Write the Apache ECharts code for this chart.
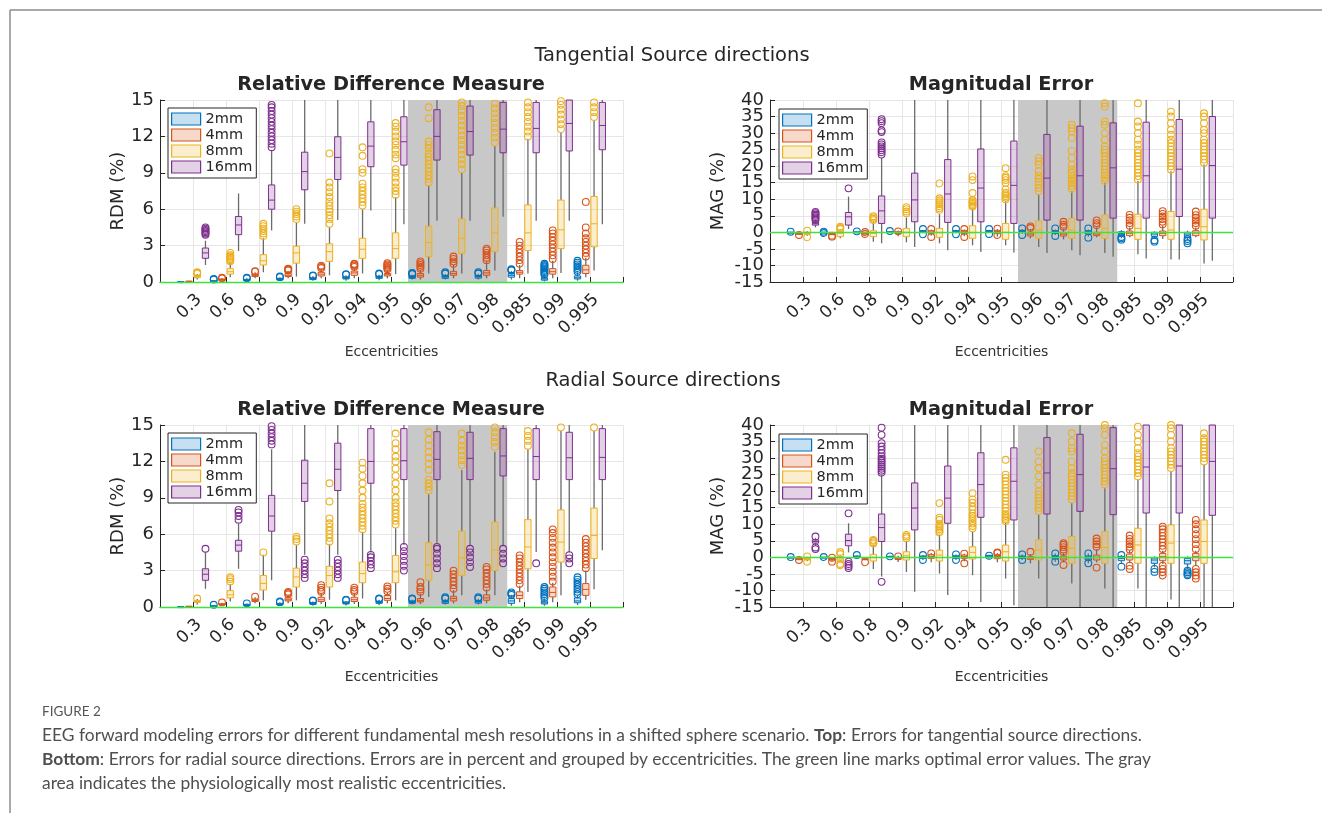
<!DOCTYPE html>
<html>
<head>
<meta charset="utf-8">
<script src="https://cdn.jsdelivr.net/npm/echarts@6/dist/echarts.min.js"></script>
<style>
  html, body { margin: 0; padding: 0; background: #fff; }
  #chart { width: 1322px; height: 813px; }
</style>
</head>
<body>
<div id="chart"></div>
<script>
const eccentricities = ['0.3', '0.6', '0.8', '0.9', '0.92', '0.94', '0.95', '0.96', '0.97', '0.98', '0.985', '0.99', '0.995']
const meshSizes = ['2mm', '4mm', '8mm', '16mm']
const realisticRange = ['0.96', '0.98']
const rdmTicks = [0, 3, 6, 9, 12, 15]
const magTicks = [-15, -10, -5, 0, 5, 10, 15, 20, 25, 30, 35, 40]

// box stats per eccentricity: [low whisker, q1, median, q3, high whisker]
const rdmTan2mm = [[0,0.01,0.02,0.03,0.05],[0.02,0.05,0.08,0.1,0.15],[0.05,0.12,0.18,0.22,0.3],[0.1,0.18,0.25,0.3,0.4],[0.1,0.2,0.3,0.35,0.5],[0.1,0.25,0.33,0.42,0.55],[0.15,0.3,0.4,0.48,0.6],[0.2,0.3,0.4,0.5,0.6],[0.2,0.3,0.42,0.5,0.65],[0.2,0.32,0.45,0.52,0.68],[0.2,0.4,0.55,0.7,0.9],[0.05,0.15,0.25,0.35,0.55],[0.1,0.25,0.35,0.5,0.8]]
const rdmTan2mmOut = [[],[0.2,0.25],[0.3,0.35],[0.4,0.45],[0.5,0.55],[0.6,0.65],[0.65,0.7],[0.65,0.7,0.75],[0.7,0.8],[0.7,0.8],[0.95,1.0,1.05],[0.6,0.7,0.8,0.9,1.0,1.1,1.2,1.3,1.4,1.5],[0.85,1.0,1.15,1.3,1.45,1.6,1.75]]
const rdmTan4mm = [[0.02,0.04,0.05,0.07,0.1],[0.1,0.15,0.2,0.25,0.3],[0.3,0.45,0.55,0.65,0.8],[0.3,0.45,0.55,0.7,0.9],[0.3,0.5,0.65,0.8,1.1],[0.3,0.55,0.75,0.9,1.2],[0.3,0.5,0.6,0.7,1.0],[0.2,0.4,0.55,0.7,1.0],[0.3,0.55,0.7,0.88,1.4],[0.3,0.55,0.75,0.95,1.7],[0.3,0.65,0.8,0.95,1.4],[0.3,0.65,0.85,1.1,1.75],[0.4,0.7,1.0,1.38,2.0]]
const rdmTan4mmOut = [[],[0.3,0.35],[0.85,0.9],[0.95,1.0,1.05,1.1],[1.15,1.25,1.35],[1.25,1.35,1.45,1.5],[1.05,1.15,1.25,1.35,1.45,1.55],[1.1,1.25,1.4,1.55,1.7],[1.5,1.7,1.9,2.1],[1.8,2.0,2.2,2.4,2.6,2.75],[1.5,1.8,2.1,2.4,2.7,3.0,3.3],[1.9,2.2,2.5,2.8,3.1,3.4,3.7,4.0,4.25],[2.1,2.4,2.7,3.0,3.3,3.6,4.0,4.5,6.6]]
const rdmTan8mm = [[0.2,0.35,0.45,0.55,0.65],[0.4,0.65,0.85,1.1,1.6],[0.8,1.4,1.75,2.25,3.6],[0.45,1.55,2.4,2.95,4.9],[0.55,1.7,2.5,3.15,4.5],[0.7,1.95,2.7,3.6,6.0],[0.65,1.95,2.75,4.05,7.0],[0.7,2.1,3.25,4.6,8.0],[0.7,2.35,3.6,5.2,9.0],[0.95,2.5,4.05,6.1,11.2],[0.7,2.6,4.05,6.35,11.8],[0.75,2.75,4.3,6.75,12.3],[0.95,2.9,4.8,7.05,13.3]]
const rdmTan8mmOut = [[0.7,0.75,0.8],[1.7,1.8,1.9,2.0,2.1,2.2,2.4],[3.8,4.0,4.2,4.4,4.6,4.8],[5.2,5.4,5.6,5.8,6.0],[4.8,5.2,5.5,5.8,6.0,6.3,6.6,7.0,7.4,7.8,8.2,10.6],[6.3,6.6,6.9,7.2,7.5,7.8,8.1,9.0,9.3,10.4,11.1],[7.2,7.5,7.8,8.2,8.6,9.0,9.3,10.2,10.5,10.9,11.3,11.6,12.0,12.4,12.8,13.1],[8.2,8.5,8.8,9.1,9.4,9.7,10.0,10.3,10.6,11.0,11.3,11.6,13.5,14.4],[9.3,9.7,10.1,10.5,10.9,11.3,11.7,12.1,12.5,12.9,13.3,13.7,14.1,14.5,14.8],[11.5,11.9,12.3,12.7,13.1,13.5,13.9,14.3,14.7],[12.0,12.4,12.8,13.2,13.6,14.0,14.4,14.8],[12.6,13.0,13.4,13.8,14.2,14.6,14.9],[13.6,14.0,14.4,14.8]]
const rdmTan16mm = [[1.4,1.95,2.4,2.8,3.4],[2.55,3.9,4.7,5.4,7.3],[4.25,6.0,6.75,8.0,10.9],[4.8,7.6,9.1,10.7,16],[5.1,8.45,10.27,11.97,16],[5.9,9.5,11.2,13.2,16],[4.76,9.63,11.56,13.62,16],[5.04,10.05,12.0,14.2,16],[5.04,10.46,12.4,14.5,16],[5.37,10.65,12.6,14.8,16],[5.04,10.65,12.66,14.8,16],[5.04,10.8,13.07,15.0,16],[4.76,10.9,12.9,14.8,16]]
const rdmTan16mmOut = [[3.9,4.0,4.1,4.2,4.3,4.4,4.5],[],[11.1,11.4,11.7,12,12.3,12.6,12.9,13.2,13.5,13.8,14.1,14.4,14.6],[],[],[],[],[],[],[],[],[],[]]

const magTan2mm = [[-0.1,-0.05,0,0.05,0.1],[-0.1,-0.05,0,0.05,0.1],[-0.1,0,0.1,0.15,0.2],[-0.1,0,0.1,0.2,0.3],[-0.3,0,0.3,0.5,0.8],[-0.3,0,0.3,0.5,0.8],[-0.2,0.1,0.3,0.5,0.8],[-0.4,0,0.3,0.6,1.0],[-0.8,-0.3,0.1,0.5,0.9],[-1.3,-0.5,0,0.5,0.9],[-1.8,-1.0,-0.4,0.2,0.7],[-2.0,-1.2,-0.5,0,0.3],[-2.5,-1.5,-0.5,0,0.5]]
const magTan2mmOut = [[0.2],[0.2,-0.2],[0.3],[0.4],[-0.6,1.0],[-0.6,1.0],[-0.5,1.0],[-0.8,1.2],[-1.1,1.2],[-1.6,1.2],[-1.8,-1.4,-2.2],[-2.4,-2.8],[-2.0,-2.6,-3.3]]
const magTan4mm = [[-0.6,-0.5,-0.4,-0.3,-0.2],[-0.8,-0.6,-0.5,-0.4,-0.2],[-0.6,-0.4,-0.3,-0.2,0],[-1.2,-0.4,-0.1,0.2,0.6],[-1.0,-0.3,0.1,0.5,0.9],[-1.2,-0.4,0.2,0.6,0.9],[-1.3,-0.4,0.2,0.6,1.0],[-1.8,-1.1,-0.5,-0.1,0.8],[-2.1,-1.1,-0.5,-0.1,1.0],[-1.5,-1.0,-0.5,0,1.5],[-1.5,-1.0,-0.3,0.4,1.5],[-2.0,-1.0,-0.3,0.4,2.0],[-1.5,-1.0,-0.2,0.5,1.5]]
const magTan4mmOut = [[-0.8],[-1.0,-1.3],[-0.5,0.1],[0.3],[-1.4,1.0],[-1.4,1.0],[-0.8,1.1],[1.3,1.8],[1.7,2.3,3.2],[2.2,2.8,3.6],[2.0,2.8,3.6,4.4,5.3],[2.4,3.2,4.0,4.8,5.6,6.4],[2.0,2.8,3.6,4.4,5.2,6.3]]
const magTan8mm = [[-1,-0.6,-0.3,0,0.3],[-1.8,-1.3,-0.3,0.7,0.9],[-2.8,-1.3,-0.3,0.5,3.2],[-3.0,-1.3,0,1.2,4.5],[-3.3,-1.5,-0.1,1.2,5.5],[-3.9,-1.8,-0.1,2.0,7.0],[-3.9,-2.1,0,2.7,9.5],[-4.4,-1.8,0.7,3.5,11.5],[-5.4,-1.8,0.7,4.3,12.5],[-6.2,-1.8,1.2,5.3,15],[-6.6,-2.1,1.2,5.5,15.5],[-8.2,-2.1,0.7,6.3,18.5],[-9.4,-2.3,1.7,7.0,20.5]]
const magTan8mmOut = [[-1.5,0.5],[1.0,1.3,1.7],[3.7,4.1,4.5,4.9],[5.8,6.3,7.0,7.6],[6.8,7.3,7.9,8.5,9.1,9.7,10.3,14.8],[7.8,8.2,8.6,9.0,9.4,9.8,11.9,15.8,16.9],[10,10.5,11,11.5,12,13,15,15.8,16.5,17,19.4],[12.4,13.5,14.5,15.3,16.2,17.2,18.5,20.5,21.5,22.5],[13.2,14.0,14.8,15.6,16.4,17.2,18,19,20.4,22.5,24.6,28.5,30.5,31.5,32.5],[15.6,16.4,17.2,18,19,20,21,22,23,24,25,26,28,30,32.5,33.5,38,39],[16,17,18,19,20,21,22,23,24,25,26.5,28,30,32,33.5,39],[19,20,21,22,23,24,25,26,27,28,29.5,31,33,35,36.5],[21,22,23,24,25,26,27,28,30,31,33,35,36]]
const magTan16mm = [[1.5,2.2,2.6,3.0,3.5],[1.0,2.2,4.7,6.0,10.8],[-3.3,2.7,6.5,11.0,22.5],[-4.4,3.2,9.8,17.9,42],[-5.4,3.0,11.6,22.0,42],[-5.9,3.2,13.4,25.2,42],[-6.1,2.7,14.2,27.6,42],[-6.2,3.7,16.4,29.6,42],[-6.9,3.7,17.1,32.1,42],[-7.4,4.3,19.5,33.1,42],[-7.9,4.3,17.1,33.3,42],[-8.2,4.8,19.1,34.1,42],[-8.6,4.3,20.2,35,42]]
const magTan16mmOut = [[3.8,4.2,4.6,5.0,5.4,5.8,6.2],[13.3],[23.5,24.2,24.8,25.4,26,26.6,27.2,30.3,30.8,33.0,33.6,34.2],[],[],[],[],[],[],[],[],[],[]]

const rdmRad2mm = [[0,0.01,0.02,0.03,0.04],[0.02,0.05,0.08,0.1,0.15],[0.05,0.12,0.18,0.22,0.28],[0.1,0.18,0.25,0.3,0.4],[0.1,0.22,0.3,0.36,0.45],[0.12,0.25,0.33,0.42,0.5],[0.15,0.3,0.4,0.48,0.6],[0.2,0.3,0.4,0.5,0.6],[0.2,0.3,0.42,0.5,0.65],[0.2,0.32,0.45,0.52,0.68],[0.1,0.3,0.5,0.7,1.0],[0.1,0.25,0.35,0.5,0.7],[0.15,0.35,0.5,0.75,1.0]]
const rdmRad2mmOut = [[],[0.18],[0.3],[0.4,0.45],[0.5,0.55],[0.55,0.6],[0.65,0.7],[0.65,0.7],[0.7,0.8],[0.7,0.8],[1.0,1.1,1.2],[0.75,0.9,1.05,1.2,1.35,1.5,1.65],[1.05,1.25,1.45,1.65,1.85,2.05,2.25,2.45]]
const rdmRad4mm = [[0.02,0.04,0.05,0.06,0.08],[0.1,0.18,0.22,0.27,0.35],[0.3,0.45,0.55,0.65,0.8],[0.3,0.5,0.6,0.75,1.0],[0.25,0.45,0.6,0.8,1.1],[0.25,0.45,0.6,0.8,1.1],[0.3,0.55,0.7,0.95,1.2],[0.25,0.42,0.55,0.7,1.1],[0.3,0.5,0.7,0.88,1.4],[0.3,0.55,0.75,1.0,1.45],[0.4,0.7,0.95,1.25,1.75],[0.4,0.83,1.2,1.65,2.0],[0.6,0.96,1.45,1.93,3.0]]
const rdmRad4mmOut = [[],[0.38],[0.85],[1.05,1.15,1.25],[1.25,1.4,1.6,1.8],[1.25,1.4,1.6],[1.3,1.5,1.7],[1.25,1.45,1.65,2.05],[1.5,1.8,2.1,2.4,2.7,3.0],[1.6,1.9,2.2,2.5,2.8,3.1,3.3],[1.9,2.2,2.5,2.8,3.1,3.4,3.7,4.0,4.25],[2.1,2.5,2.9,3.3,3.7,4.1,4.5,4.9,5.3,5.7,6.1,6.4],[3.2,3.5,3.8,4.1,4.4,4.7,5.0,5.3,5.6]]
const rdmRad8mm = [[0.2,0.38,0.45,0.52,0.65],[0.45,0.75,1.0,1.35,1.9],[0.55,1.4,1.95,2.6,4.3],[0.55,1.65,2.48,3.2,5.1],[0.6,1.65,2.6,3.35,5.2],[0.7,2.0,2.75,3.7,6.2],[0.55,2.0,2.9,4.25,6.5],[0.83,2.2,3.45,5.3,9.3],[0.96,2.6,4.05,6.25,11.3],[0.96,3.0,4.7,7.0,12.8],[1.24,3.15,4.95,7.2,13.0],[0.96,3.7,5.35,8.0,14.5],[1.46,4.0,5.9,8.15,14.5]]
const rdmRad8mmOut = [[0.7],[2.1,2.3,2.45],[4.5],[5.4,5.6,5.8],[5.4,5.7,6.0,6.3,6.6,6.9,7.3,8.7,10.2],[6.4,6.7,7.0,7.3,7.6,7.9,8.2,8.5,9.0,9.6,10.2,10.8,11.4,11.9],[6.8,7.1,7.4,7.7,8.0,8.3,8.6,9.0,9.6,10.2,10.8,11.4,12.0,12.4,13.0,13.5,14.3],[9.6,9.9,10.2,10.5,11.3,11.8,12.3,12.8,13.3,13.8,14.4],[11.7,12.1,12.5,12.9,13.3,13.7,14.3],[13.2,13.6,14.0,14.4,14.8],[13.3,13.7,14.1,14.5],[14.8],[14.8]]
const rdmRad16mm = [[1.5,2.2,2.7,3.15,4.5],[3.15,4.6,5.1,5.5,6.9],[2.2,6.25,7.5,9.2,13.0],[4.3,8.7,10.2,12.1,16],[4.3,9.6,11.35,13.5,16],[4.5,10.2,12.0,14.7,16],[5.1,10.5,12.06,14.7,16],[5.3,10.5,12.17,14.45,16],[5.0,10.5,12.25,14.4,16],[5.0,10.8,12.45,14.7,16],[4.54,10.5,12.4,14.7,16],[4.5,10.5,12.3,14.4,16],[4.68,10.5,12.33,14.7,16]]
const rdmRad16mmOut = [[4.8],[7.2,7.5,7.8,8.0],[13.4,13.7,14.0,14.3,14.6,14.9],[2.4,2.7,3.0,3.3,3.6,3.9],[2.4,2.7,3.0,3.3,3.6,3.9],[3.2,3.5,3.8,4.1,4.3],[3.0,3.4,3.8,4.2,4.6,4.95],[3.2,3.6,4.0,4.4,4.8,4.95],[3.3,3.7,4.1,4.5,4.8],[3.6,4.0,4.4,4.8],[3.6],[3.6,4.0,4.27],[]]

const magRad2mm = [[-0.1,-0.05,0,0.05,0.1],[-0.1,-0.05,0,0.05,0.1],[-0.2,0,0.2,0.4,0.6],[-0.2,0,0.15,0.3,0.5],[-0.8,-0.3,0.1,0.4,0.7],[-0.8,-0.3,0.2,0.5,0.9],[-0.3,0.1,0.4,0.6,0.8],[-0.8,-0.3,0,0.4,0.9],[-1.3,-0.5,0,0.5,1.2],[-1.8,-0.8,-0.2,0.4,1.2],[-2.0,-1.0,-0.3,0.3,0.7],[-3.0,-1.8,-0.8,-0.2,0.3],[-3.5,-2.0,-1.0,-0.3,0.3]]
const magRad2mmOut = [[0.1],[0.1],[0.7],[0.3],[-0.8,0.7],[-0.8,0.9],[0.5],[-0.8,0.9],[-1.3,1.2],[-1.8,1.2],[-2.8,0.7],[-3.5,-4.4],[-4.0,-4.5,-5.0,-5.4]]
const magRad4mm = [[-0.7,-0.6,-0.5,-0.4,-0.3],[-1.0,-0.7,-0.5,-0.3,-0.1],[-0.9,-0.7,-0.6,-0.4,-0.2],[-1.4,-0.6,-0.3,0,0.5],[-1.5,-0.3,0.3,0.8,1.3],[-1.2,-0.3,0.3,0.7,1.1],[-1.5,-0.4,0.3,0.8,1.3],[-1.8,-0.6,-0.2,0.2,1.0],[-1.5,-0.8,-0.2,0.4,1.3],[-1.5,-0.8,0,0.7,2.5],[-1.8,-0.8,0.1,1.0,2.0],[-2.0,-1.0,0.2,1.2,2.0],[-2.5,-1.0,0.2,1.2,2.0]]
const magRad4mmOut = [[-0.8],[-1.3,-0.1],[-1.5],[0.3],[1.2],[-1.8,1.1],[1.3,1.5],[1.7],[1.7,2.4,3.1,3.8,4.3,-2.3],[3.2,4.0,4.8,5.7,-3.1],[2.4,3.2,4.0,4.8,5.6,6.6,-2.5,-3.5],[2.5,3.5,4.5,5.5,6.5,7.5,8.5,9.3,-2.5,-3.5,-4.5,-5.5],[2.5,4,5.5,7,8.5,10,11.3,-3.5,-4.5,-5.5,-6.4]]
const magRad8mm = [[-1.2,-0.8,-0.5,-0.2,0.2],[-1.5,-1.2,-0.5,0.2,0.8],[-3.5,-1.1,0,0.9,3.5],[-4.4,-0.8,0.5,1.7,5.0],[-4.9,-1.1,0.7,2.2,6.8],[-5.4,-0.5,1.5,3.2,8.0],[-6.4,-1.1,1.7,3.7,10.5],[-6.4,-0.8,2.2,5.3,13],[-7.9,-1.8,2.7,6.3,16.5],[-9.4,-1.8,3.0,7.8,21],[-9.4,-1.8,3.75,8.8,23.5],[-12.7,-1.8,4.3,9.8,26],[-16,-1.8,4.8,11.3,28]]
const magRad8mmOut = [[-1.3,0.3],[1.0,1.6,-2.0,-2.4],[4.2,4.6,5.0,5.3],[5.8,6.3,6.8],[7.5,8.0,8.5,9.0,9.5,10.0,11.3,12.0,16.4],[8.8,9.5,10.2,11,11.8,12.5,13.2,14.5,15.3,16.5,17.5,19.4],[11,11.5,12,12.5,13,14,15,16,17,18,19,20,21,22,23,24,25,29.5],[14,15,16,17,18,19,20,22,24.5,27,29,32],[17.5,18.5,19.5,20.5,21.5,22.5,23.5,24.5,25.5,27,29,32,33,35,37.5],[22,23,24,25,26,27,28,29,30,32,34,37,39,40],[24.5,25.5,26.5,27.5,28.5,29.5,30.5,31.5,33,35,37,39.5],[27,28,29,30,31,32,33,35,37,39,40],[29,30,31,32,33,34,35,36,37.5]]
const magRad16mm = [[3.5,4.3,4.8,5.3,5.9],[1.5,3.5,5.1,7.0,10.3],[-5.8,4.8,9.0,13.1,25],[-10.4,8.3,14.9,22.5,42],[-11.4,10.3,17.9,27.6,42],[-13.5,12.1,22,31.6,42],[-14.5,11.3,23,33.1,42],[-16,13.1,25.5,36.2,42],[-16,13.9,25,37.2,42],[-16,12.9,26.8,39.2,42],[-16,13.4,27.3,40.5,42],[-16,13.4,27.6,40.5,42],[-16,12.7,29,40.5,42]]
const magRad16mmOut = [[2.5,3.0,6.3],[13.3,-1.3,-2.0,-2.6,-3.2],[25.6,26.2,26.8,27.4,28,28.6,29.2,29.8,30.5,31.5,32.5,33.5,34.5,37,39.2,-7.4],[],[],[],[],[],[],[],[],[],[]]

const FONT = 'DejaVu Sans'
const INK = '#262626'
const meshColors = ['#0072BD', '#D95319', '#EDB120', '#7E2F8E']

function fade(hex, a) {
    const n = parseInt(hex.slice(1), 16)
    return 'rgba(' + (n >> 16) + ',' + ((n >> 8) & 255) + ',' + (n & 255) + ',' + a + ')'
}

const panels = [
    { rect: [160, 100], legend: [168, 108], ticks: rdmTicks, yName: 'RDM (%)', yGap: 33,
      boxes: [rdmTan2mm, rdmTan4mm, rdmTan8mm, rdmTan16mm], outs: [rdmTan2mmOut, rdmTan4mmOut, rdmTan8mmOut, rdmTan16mmOut] },
    { rect: [770, 100], legend: [779, 109], ticks: magTicks, yName: 'MAG (%)', yGap: 43,
      boxes: [magTan2mm, magTan4mm, magTan8mm, magTan16mm], outs: [magTan2mmOut, magTan4mmOut, magTan8mmOut, magTan16mmOut] },
    { rect: [160, 425], legend: [168, 433], ticks: rdmTicks, yName: 'RDM (%)', yGap: 33,
      boxes: [rdmRad2mm, rdmRad4mm, rdmRad8mm, rdmRad16mm], outs: [rdmRad2mmOut, rdmRad4mmOut, rdmRad8mmOut, rdmRad16mmOut] },
    { rect: [770, 425], legend: [779, 434], ticks: magTicks, yName: 'MAG (%)', yGap: 43,
      boxes: [magRad2mm, magRad4mm, magRad8mm, magRad16mm], outs: [magRad2mmOut, magRad4mmOut, magRad8mmOut, magRad16mmOut] }
]

function makeBoxRenderer(offset, color, outliers) {
    return function (params, api) {
        const cs = params.coordSys
        const clampY = y => Math.max(cs.y, Math.min(cs.y + cs.height, y))
        const pos = api.value(0)
        const band = api.size([1, 0])[0]
        const x = api.coord([pos, 0])[0] + offset * band
        const half = band * 0.095
        const yv = k => clampY(api.coord([pos, api.value(k)])[1])
        const yLow = yv(1), yQ1 = yv(2), yMed = yv(3), yQ3 = yv(4), yHigh = yv(5)
        const whisker = { stroke: '#6b6b6b', lineWidth: 1.3 }
        const children = [
            { type: 'line', shape: { x1: x, y1: yHigh, x2: x, y2: yQ3 }, style: whisker },
            { type: 'line', shape: { x1: x, y1: yQ1, x2: x, y2: yLow }, style: whisker },
            { type: 'rect', shape: { x: x - half, y: yQ3, width: half * 2, height: Math.max(yQ1 - yQ3, 1) },
              style: { fill: fade(color, 0.22), stroke: color, lineWidth: 1 } },
            { type: 'line', shape: { x1: x - half, y1: yMed, x2: x + half, y2: yMed }, style: { stroke: color, lineWidth: 1 } }
        ]
        outliers[params.dataIndex].forEach(v => {
            const p = api.coord([pos, v])
            if (p[1] < cs.y - 2 || p[1] > cs.y + cs.height + 2) return
            children.push({ type: 'circle', shape: { cx: x, cy: p[1], r: 3.4 },
                style: { fill: 'none', stroke: color, lineWidth: 1.1 } })
        })
        return { type: 'group', children: children }
    }
}

const grayFrom = eccentricities.indexOf(realisticRange[0]) + 0.5
const grayTo = eccentricities.indexOf(realisticRange[1]) + 1.5

const grid = [], xAxis = [], yAxis = [], extraY = [], series = [], legend = []
panels.forEach((p, i) => {
    const lo = p.ticks[0], hi = p.ticks[p.ticks.length - 1], step = p.ticks[1] - p.ticks[0]
    // labels next to the ends go on a second axis so the overlap check keeps them all
    const inner = v => v === lo + step || v === hi - step
    grid.push({ left: p.rect[0], top: p.rect[1], width: 463, height: 182 })
    xAxis.push({
        gridIndex: i, type: 'value', min: 0, max: eccentricities.length + 1, interval: 1,
        name: 'Eccentricities', nameLocation: 'middle', nameGap: 63,
        nameTextStyle: { fontFamily: FONT, fontSize: 14, color: '#333' },
        axisLine: { onZero: false, lineStyle: { color: INK } },
        axisTick: { inside: true, length: 5, lineStyle: { color: INK } },
        axisLabel: { rotate: 45, fontFamily: FONT, fontSize: 17, color: INK, margin: 9,
            align: 'right', verticalAlign: 'top',
            formatter: v => eccentricities[v - 1] || '' },
        splitLine: { show: true, lineStyle: { color: '#e6e6e6' } }
    })
    yAxis.push({
        gridIndex: i, type: 'value', position: 'left', min: lo, max: hi, interval: step,
        name: p.yName, nameLocation: 'middle', nameGap: p.yGap,
        nameTextStyle: { fontFamily: FONT, fontSize: 18, color: INK },
        axisLine: { show: true, lineStyle: { color: INK } },
        axisTick: { show: true, inside: true, length: 5, lineStyle: { color: INK } },
        axisLabel: { fontFamily: FONT, fontSize: 18, color: INK, margin: 6,
            showMinLabel: true, showMaxLabel: true, formatter: v => inner(v) ? '' : String(v) },
        splitLine: { lineStyle: { color: '#e6e6e6' } }
    })
    extraY.push({
        gridIndex: i, type: 'value', position: 'left', offset: 0, min: lo, max: hi, interval: step,
        axisLine: { show: false }, axisTick: { show: false }, splitLine: { show: false },
        axisLabel: { fontFamily: FONT, fontSize: 18, color: INK, margin: 6,
            showMinLabel: true, showMaxLabel: true, formatter: v => inner(v) ? String(v) : '' }
    })
    series.push({
        type: 'line', xAxisIndex: i, yAxisIndex: i, data: [], z: 1, silent: true,
        markArea: { silent: true, itemStyle: { color: '#c8c8c8' },
            data: [[{ xAxis: grayFrom }, { xAxis: grayTo }]] },
        markLine: { silent: true, symbol: 'none', label: { show: false },
            lineStyle: { color: '#3ee43e', width: 1.3, type: 'solid' }, data: [{ yAxis: 0 }] }
    })
    meshSizes.forEach((m, s) => {
        series.push({
            type: 'custom', name: m, xAxisIndex: i, yAxisIndex: i, z: 3,
            itemStyle: { color: meshColors[s] },
            renderItem: makeBoxRenderer((s - 1.5) * 0.25, meshColors[s], p.outs[s]),
            encode: { x: 0, y: [1, 2, 3, 4, 5] },
            data: p.boxes[s].map((b, k) => [k + 1].concat(b))
        })
    })
    legend.push({
        left: p.legend[0], top: p.legend[1], orient: 'vertical', icon: 'rect',
        itemWidth: 29, itemHeight: 12, itemGap: 0, padding: [3, 4, 3, 3],
        backgroundColor: '#fff', borderColor: INK, borderWidth: 1, borderRadius: 0,
        textStyle: { fontFamily: FONT, fontSize: 14.5, color: INK, lineHeight: 16 },
        data: meshSizes.map((m, s) => ({ name: m,
            itemStyle: { color: fade(meshColors[s], 0.22), borderColor: meshColors[s], borderWidth: 1.2 } }))
    })
})

function label(x, y, text, size, weight) {
    return { type: 'text', x: x, y: y, style: { text: text, fontFamily: FONT, fontSize: size,
        fontWeight: weight || 'normal', fill: INK, align: 'center', verticalAlign: 'middle' } }
}
const capStyle = { fontFamily: 'Lato', fontSize: 17.4, fill: '#4f4f4f' }
function caption(y, text) {
    return { type: 'text', x: 42, y: y, style: Object.assign({ text: text, verticalAlign: 'middle',
        rich: { b: Object.assign({ fontWeight: 'bold' }, capStyle) } }, capStyle) }
}

const graphic = [
    { type: 'line', shape: { x1: 10, y1: 10, x2: 1322, y2: 10 }, style: { stroke: '#8c8c8c', lineWidth: 1.5 } },
    { type: 'line', shape: { x1: 10, y1: 10, x2: 10, y2: 813 }, style: { stroke: '#8c8c8c', lineWidth: 1.5 } },
    label(672, 56, 'Tangential Source directions', 19.5),
    label(663, 381, 'Radial Source directions', 19.5),
    label(391, 85, 'Relative Difference Measure', 19.3, 'bold'),
    label(1001, 85, 'Magnitudal Error', 19.3, 'bold'),
    label(391, 410, 'Relative Difference Measure', 19.3, 'bold'),
    label(1001, 410, 'Magnitudal Error', 19.3, 'bold'),
    { type: 'text', x: 42, y: 712, style: { text: 'FIGURE 2', fontFamily: 'Lato', fontSize: 13.5,
        fill: '#555', verticalAlign: 'middle' } },
    caption(735, 'EEG forward modeling errors for different fundamental mesh resolutions in a shifted sphere scenario. {b|Top}: Errors for tangential source directions.'),
    caption(759, '{b|Bottom}: Errors for radial source directions. Errors are in percent and grouped by eccentricities. The green line marks optimal error values. The gray'),
    caption(783, 'area indicates the physiologically most realistic eccentricities.')
]

const myChart = echarts.init(document.getElementById('chart'))
myChart.setOption({
    animation: false,
    backgroundColor: '#fff',
    grid: grid,
    xAxis: xAxis,
    yAxis: yAxis.concat(extraY),
    legend: legend,
    series: series,
    graphic: graphic
})
</script>
</body>
</html>
